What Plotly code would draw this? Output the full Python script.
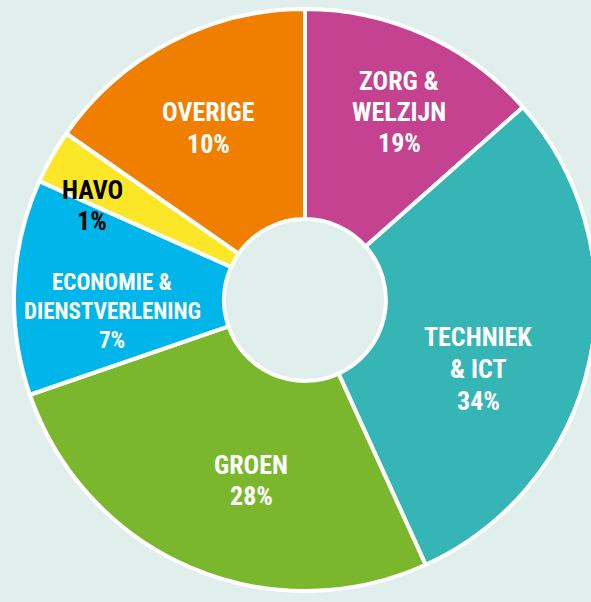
import plotly.graph_objects as go

categories = ["ZORG &<br>WELZIJN", "TECHNIEK<br>& ICT", "GROEN", "ECONOMIE &<br>DIENSTVERLENING", "HAVO", "OVERIGE"]
slice_values = [48.5, 107.0, 95.5, 43.1, 10.8, 55.1]
pct_labels = ["19%", "34%", "28%", "7%", "1%", "10%"]
colors = ["#c4428f", "#35b5b5", "#7ab72c", "#00b5ea", "#fbe727", "#f07f00"]
text_colors = ["white", "white", "white", "white", "black", "white"]

W, H = 620, 620
cx, cy, R = 305, 300, 291
BG = "#e0efec"

fig = go.Figure(go.Pie(
    values=slice_values,
    labels=[c.replace("<br>", " ") for c in categories],
    marker=dict(colors=colors, line=dict(color="white", width=4)),
    hole=0.278,
    sort=False,
    direction="clockwise",
    rotation=0,
    textinfo="none",
    hoverinfo="label",
    showlegend=False,
    domain=dict(x=[(cx - R) / W, (cx + R) / W], y=[1 - (cy + R) / H, 1 - (cy - R) / H]),
))

# label block centres (pixels) and line pitch
label_pos = [(399, 112, 31), (478, 369, 32), (251, 480, 31), (112, 311, 29), (92, 205, 31), (208, 128, 32)]
font_sizes = [26, 26, 26, 23, 26, 26]
annotations = []
for cat, pct, (lx, ly, pitch), tc, fs in zip(categories, pct_labels, label_pos, text_colors, font_sizes):
    lines = cat.split("<br>") + [pct]
    n = len(lines)
    for i, line in enumerate(lines):
        y = ly + (i - (n - 1) / 2) * pitch
        annotations.append(dict(
            x=lx / W, y=1 - y / H, xref="paper", yref="paper",
            text=line, showarrow=False, xanchor="center", yanchor="middle",
            font=dict(family="Roboto Condensed, Liberation Sans Narrow, DejaVu Sans Condensed, DejaVu Sans",
                      size=fs, color=tc, weight="bold"),
        ))

fig.update_layout(
    width=W, height=H,
    margin=dict(l=0, r=0, t=0, b=0),
    paper_bgcolor=BG, plot_bgcolor=BG,
    annotations=annotations,
)

fig.write_html("out.html", config={"displayModeBar": False}, post_script=(
    "document.body.style.margin='0';document.body.style.overflow='hidden';"
    "document.documentElement.style.overflow='hidden';"
    "document.body.style.background='" + BG + "';"
))
